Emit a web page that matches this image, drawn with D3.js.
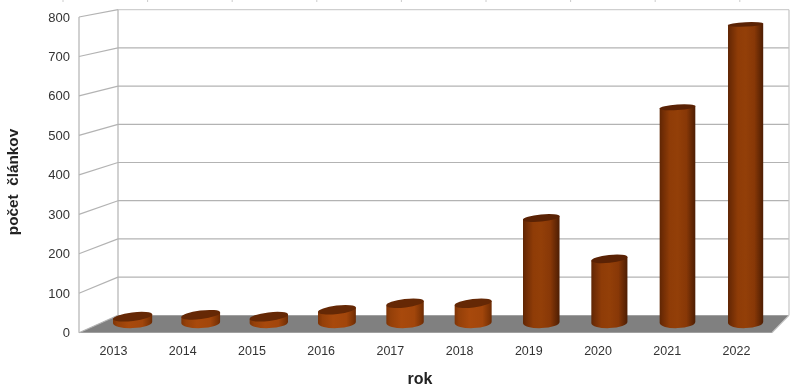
<!DOCTYPE html>
<html><head><meta charset="utf-8">
<script src="https://cdn.jsdelivr.net/npm/d3@7"></script>
<style>html,body{margin:0;background:#fff}svg{display:block;filter:blur(.35px)}text{font-family:"Liberation Sans",Arial,sans-serif}</style>
</head><body><svg id="c" width="800" height="389"></svg>
<script>
const years=["2013","2014","2015","2016","2017","2018","2019","2020","2021","2022"];
const articles=[15,20,15,33,50,50,271,165,558,773];
const yTicks=[0,100,200,300,400,500,600,700,800];
const svg=d3.select("#c");
const yFront=d3.scaleLinear().domain([0,800]).range([332.7,17]);
const yBack=d3.scaleLinear().domain([0,800]).range([315.3,9.7]);
const yBar=d3.scaleLinear().domain([0,800]).range([322.5,14]);
const xLabel=d3.scalePoint().domain(years).range([113.5,736.5]);
const xBar=d3.scalePoint().domain(years).range([132.6,745.6]);
const xL=79,xB=118,xR=772,xBR=789;
const grid="#b3b3b3";
const defs=svg.append("defs");
const g=defs.append("linearGradient").attr("id","side");
[[0,"#5f2604"],[.08,"#6f2c05"],[.28,"#8f3c07"],[.5,"#933f08"],[.75,"#883807"],[.93,"#5e2504"],[1,"#4e1e03"]]
 .forEach(d=>g.append("stop").attr("offset",d[0]).attr("stop-color",d[1]));
const gs=defs.append("linearGradient").attr("id","short");
[[0,"#7e3406"],[.12,"#954009"],[.4,"#a8490c"],[.75,"#a2460b"],[.94,"#7c3305"],[1,"#6a2a04"]]
 .forEach(d=>gs.append("stop").attr("offset",d[0]).attr("stop-color",d[1]));
svg.append("path").attr("d",`M${xL},${yFront(0)}L${xB},${yBack(0)}L${xBR},${yBack(0)}L${xR},${yFront(0)}Z`).attr("fill","#808080");
const gl=svg.append("g").attr("fill","none").attr("stroke",grid).attr("stroke-width",1.2);
gl.selectAll(".h").data(yTicks.slice(1)).join("line").attr("x1",xB).attr("x2",xBR).attr("y1",d=>yBack(d)).attr("y2",d=>yBack(d)).attr("stroke",d=>d==800?"#cfcfcf":grid);
gl.selectAll(".s").data(yTicks).join("line").attr("x1",xL).attr("x2",xB).attr("y1",d=>yFront(d)).attr("y2",d=>yBack(d));
gl.append("line").attr("x1",xL).attr("x2",xL).attr("y1",yFront(0)).attr("y2",yFront(800));
gl.append("line").attr("x1",xB).attr("x2",xB).attr("y1",yBack(0)).attr("y2",yBack(800));
gl.append("line").attr("x1",xBR).attr("x2",xBR).attr("y1",yBack(0)).attr("y2",yBack(800)).attr("stroke","#c4c4c4");
gl.append("line").attr("x1",xR).attr("x2",xBR).attr("y1",yFront(0)).attr("y2",yBack(0)).attr("stroke","#c4c4c4");
svg.append("g").selectAll("line").data(d3.range(10)).join("line")
 .attr("x1",i=>63+i*84.6).attr("x2",i=>63+i*84.6).attr("y1",0).attr("y2",2).attr("stroke","#ccc");
const rxScale=d3.scaleLinear().domain([0,9]).range([19.6,17.6]);
const ryScale=d3.scaleLinear().domain([25,318]).range([2.2,4.3]);
const tiltScale=d3.scaleLinear().domain([25,318]).range([-2.5,-7]);
const marks=svg.append("g");
years.forEach((yr,i)=>{
  const cx=xBar(yr), v=articles[i], top=yBar(v), base=yBar(0), rx=rxScale(i);
  const rt=ryScale(top), rb=5.6;
  const aT=tiltScale(top), aB=-2;
  const dyT=rx*Math.sin(aT*Math.PI/180), dyB=rx*Math.sin(aB*Math.PI/180);
  const g1=marks.append("g");
  g1.append("path")
   .attr("d",`M${cx-rx},${top-dyT}L${cx+rx},${top+dyT}L${cx+rx},${base+dyB}A${rx},${rb} ${aB} 0 1 ${cx-rx},${base-dyB}Z`)
   .attr("fill",v<100?"url(#short)":"url(#side)");
  g1.append("ellipse").attr("cx",cx).attr("cy",top).attr("rx",rx+.2).attr("ry",rt)
   .attr("transform",`rotate(${aT},${cx},${top})`).attr("fill",v<100?"#652805":"#5a2204");
});
const ax=svg.append("g").attr("fill","#333").attr("font-size",13);
ax.selectAll(".yl").data(yTicks).join("text").attr("x",70).attr("y",d=>yFront(d)+4.5).attr("text-anchor","end").text(d=>d);
ax.selectAll(".xl").data(years).join("text").attr("x",d=>xLabel(d)).attr("y",355).attr("text-anchor","middle").attr("font-size",12.5).text(d=>d);
svg.append("text").attr("x",420).attr("y",384).attr("text-anchor","middle").attr("font-weight","bold").attr("font-size",16).attr("fill","#222").text("rok");
svg.append("text").attr("transform","translate(18,182) rotate(-90)").attr("text-anchor","middle").attr("font-weight","bold").attr("font-size",15.3).attr("fill","#222").style("white-space","pre").text("počet  článkov");
</script></body></html>
